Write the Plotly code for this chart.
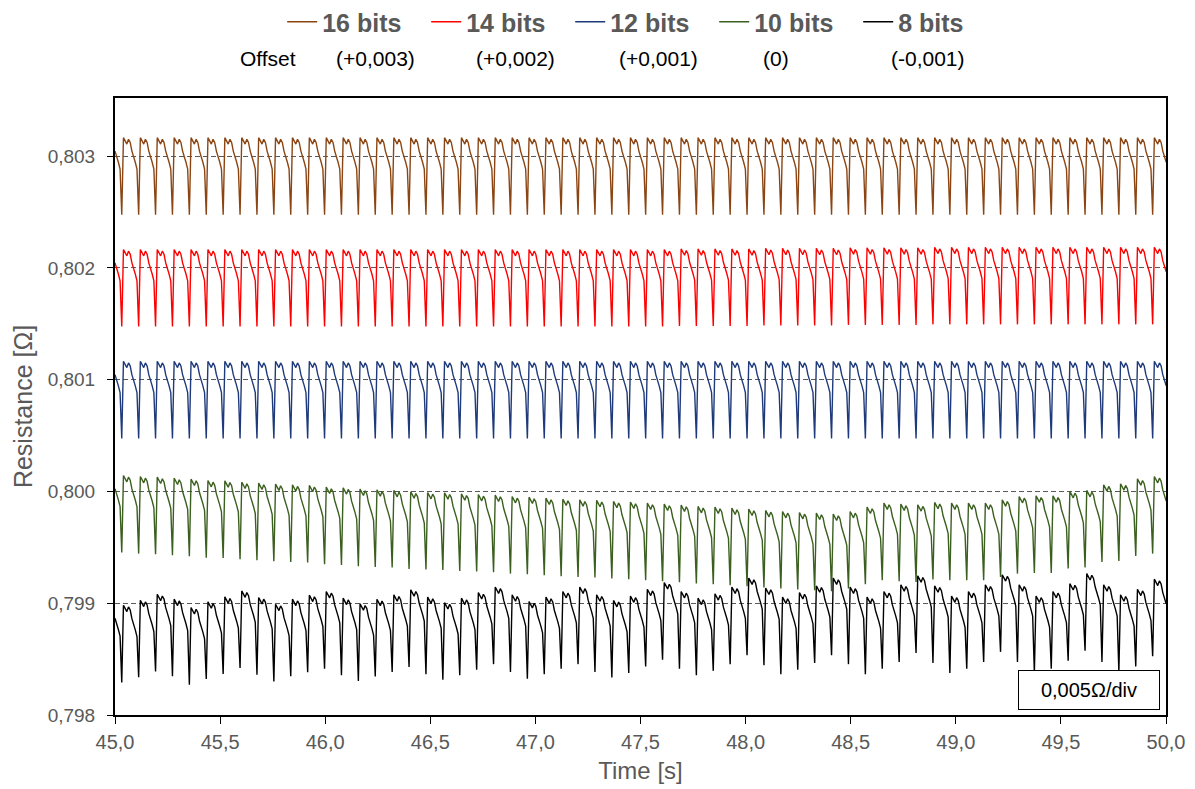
import plotly.graph_objects as go

# ---------------- data ----------------
series_names = ["16 bits", "14 bits", "12 bits", "10 bits", "8 bits"]
series_base = [0.803, 0.802, 0.801, 0.800, 0.799]  # offset applied per series
offset_labels = ["(+0,003)", "(+0,002)", "(+0,001)", "(0)", "(-0,001)"]
colors = ["#8B4513", "#FF0000", "#1F3A7A", "#3A5F1E", "#000000"]

cycle_shape = [-525, 165, 140, 108, 150, 122, 45, 0, -55, -115]
sample_dt = 0.00804       # s between samples
t_start = 45.0
start_phase = 6           # first sample lies at this index of the cycle shape
n_samples = 623

# per-cycle level (micro-ohm), cycles 0..62
lvl_16 = [0, 0, 0, 0, 0, 0, 0, 0, 0, 0, 0, 0, 0, 0, 0, 0, 0, 0, 0, 0, 0, 0, 0, 0, 0, 0, 0, 0, 0, 0, 0, 0,
          0, 0, 0, 0, 0, 0, 0, 0, 0, 0, 0, 0, 0, 0, 0, 0, 0, 0, 0, 0, 0, 0, 0, 0, 0, 0, 0, 0, 0, 0, 0]
lvl_14 = [0, 0, 0, 0, 0, 0, 0, 0, 0, 0, 0, 0, 0, 0, 0, 0, 0, 0, 0, 0, 0, 0, 0, 0, 0, 0, 0, 0, 0, 0, 0, 0,
          0, 0, 5, 5, 5, 5, 5, 10, 10, 10, 10, 10, 15, 15, 15, 15, 15, 20, 20, 20, 20, 20, 20, 20, 20, 20, 20, 20, 20, 20, 20]
lvl_12 = [0, 0, 0, 0, 0, 0, 0, 0, 0, 0, 0, 0, 0, 0, 0, 0, 0, 0, 0, 0, 0, 0, 0, 0, 0, 0, 0, 0, 0, 0, 0, 0,
          0, 0, 0, 0, 0, 0, 0, 0, 0, 0, 0, 0, 0, 0, 0, 0, 0, 0, 0, 0, 0, 0, 0, 0, 0, 0, 0, 0, 0, 0, 0]
lvl_10 = [-20, -22, -31, -37, -46, -55, -67, -70, -82, -90, -99, -105, -111, -126, -132, -144, -150, -156,
          -168, -174, -177, -186, -192, -198, -210, -216, -225, -234, -240, -245, -254, -260,
          -269, -278, -287, -299, -305, -314, -323, -335, -344, -353, -359, -368, -344, -305, -269, -278,
          -284, -263, -269, -269, -269, -240, -210, -204, -204, -165, -156, -105, -96, -52, -31]
lvl_8 = [-180, -183, -138, -85, -129, -204, -153, -108, -55, -114, -174, -129, -93, -60, -120, -170,
         -130, -90, -45, -110, -160, -120, -70, -20, -90, -150, -110, -60, -20, -90, -140, -100,
         -40, 20, -60, -120, -80, -20, 60, -30, -110, -70, -10, 60, -20, -110, -60, 0,
         80, -10, -100, -60, 0, 90, 0, -100, -60, 10, 100, 0, -90, -40, 50]
levels = [lvl_16, lvl_14, lvl_12, lvl_10, lvl_8]

# ---------------- figure ----------------
time = [t_start + i * sample_dt for i in range(n_samples)]
fig = go.Figure()
for name, base, lv, col in zip(series_names, series_base, levels, colors):
    vals = []
    for i in range(n_samples):
        k, j = divmod(i + start_phase, len(cycle_shape))
        vals.append(base + (lv[k] + cycle_shape[j]) * 1e-6)
    fig.add_trace(go.Scatter(x=time, y=vals, mode="lines", name=name,
                             line=dict(color=col, width=1.4)))

gray = "#595959"
fig.update_layout(
    width=1187, height=781,
    margin=dict(l=107, r=29, t=90, b=74, autoexpand=False),
    paper_bgcolor="white", plot_bgcolor="white",
    separators=", ",
    font=dict(family="Liberation Sans, Arial, sans-serif", color=gray),
    showlegend=True,
    legend=dict(orientation="h", xref="container", x=0.231, xanchor="left",
                yref="container", y=0.982, yanchor="middle",
                font=dict(size=25, color=gray, weight="bold"),
                entrywidth=99, entrywidthmode="pixels",
                tracegroupgap=0, bgcolor="rgba(0,0,0,0)"),
)
fig.update_xaxes(range=[45, 50], dtick=0.5, tickformat=".1f",
                 showline=True, linecolor="black", linewidth=2, mirror=True,
                 ticks="outside", ticklen=7, tickcolor="black", ticklabelstandoff=1,
                 tickfont=dict(size=20, color=gray), showgrid=False, zeroline=False,
                 title=dict(text="Time [s]", font=dict(size=24, color=gray), standoff=10))
fig.update_yaxes(range=[0.798, 0.80352], dtick=0.001, tick0=0.798, tickformat=".3f",
                 showline=True, linecolor="black", linewidth=2, mirror=True,
                 ticks="outside", ticklen=6, tickcolor="black", ticklabelstandoff=8,
                 tickfont=dict(size=19, color=gray),
                 showgrid=True, gridcolor="#595959", griddash="5px,3px", gridwidth=1,
                 zeroline=False,
                 title=dict(text="Resistance [Ω]", font=dict(size=25, color=gray), standoff=8))

# offset row
fig.add_annotation(x=0.1456, y=1.0648, xref="paper", yref="paper", text="Offset",
                   xanchor="center", yanchor="middle",
                   showarrow=False, font=dict(size=21, color="black"))
for lbl, xp in zip(offset_labels, [0.2474, 0.3806, 0.5167, 0.6289, 0.7735]):
    fig.add_annotation(x=xp, y=1.0648, xref="paper", yref="paper", text=lbl,
                       xanchor="center", yanchor="middle",
                       showarrow=False, font=dict(size=21, color="black"))

fig.add_annotation(x=0.9267, y=0.0405, xref="paper", yref="paper", text="0,005Ω/div",
                   xanchor="center", yanchor="middle",
                   showarrow=False, font=dict(size=20, color="black"),
                   bordercolor="black", borderwidth=1, bgcolor="white", borderpad=1,
                   width=138, height=36)

fig.write_html("out.html")
